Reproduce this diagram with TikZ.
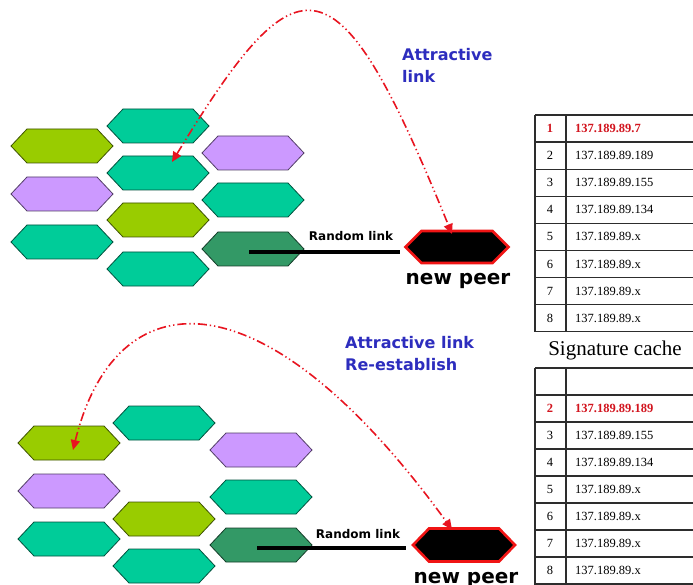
\documentclass[tikz,border=0pt]{standalone}
\usepackage{fontspec}
\setmainfont{Liberation Serif}
\newfontfamily\labelfont{DejaVu Sans}
\usetikzlibrary{arrows.meta,calc}

\definecolor{cellteal}{RGB}{0,204,153}
\definecolor{celllime}{RGB}{153,204,0}
\definecolor{cellviolet}{RGB}{204,153,255}
\definecolor{celldark}{RGB}{51,153,102}
\definecolor{linkred}{RGB}{232,20,32}
\definecolor{peerred}{RGB}{240,20,20}
\definecolor{labelblue}{RGB}{45,45,190}
\definecolor{rowred}{RGB}{210,20,30}
\definecolor{gridgray}{RGB}{45,45,45}

% flat-topped hexagon that fills the node's rectangle
\makeatletter
\newdimen\hexinset \hexinset=16pt
\pgfdeclareshape{hexcell}{
  \inheritsavedanchors[from=rectangle]
  \inheritanchorborder[from=rectangle]
  \inheritanchor[from=rectangle]{center}
  \inheritanchor[from=rectangle]{north}
  \inheritanchor[from=rectangle]{south}
  \inheritanchor[from=rectangle]{west}
  \inheritanchor[from=rectangle]{east}
  \inheritanchor[from=rectangle]{north west}
  \inheritanchor[from=rectangle]{north east}
  \inheritanchor[from=rectangle]{south west}
  \inheritanchor[from=rectangle]{south east}
  \backgroundpath{
    \southwest \pgf@xa=\pgf@x \pgf@ya=\pgf@y
    \northeast \pgf@xb=\pgf@x \pgf@yb=\pgf@y
    \pgf@yc=.5\pgf@ya \advance\pgf@yc by .5\pgf@yb
    \pgf@xc=\pgf@xa \advance\pgf@xc by \hexinset
    \pgfpathmoveto{\pgfqpoint{\pgf@xa}{\pgf@yc}}
    \pgfpathlineto{\pgfqpoint{\pgf@xc}{\pgf@yb}}
    \pgfpathlineto{\pgfqpoint{\dimexpr\pgf@xb-\hexinset\relax}{\pgf@yb}}
    \pgfpathlineto{\pgfqpoint{\pgf@xb}{\pgf@yc}}
    \pgfpathlineto{\pgfqpoint{\dimexpr\pgf@xb-\hexinset\relax}{\pgf@ya}}
    \pgfpathlineto{\pgfqpoint{\pgf@xc}{\pgf@ya}}
    \pgfpathclose
  }
}
\makeatother

\tikzset{
  cell/.style={shape=hexcell, fill=#1, draw=#1!40!black, line width=0.8pt,
    minimum width=102pt, minimum height=34pt, inner sep=0pt, outer sep=0pt},
  peer/.style={shape=hexcell, fill=black, draw=peerred, line width=2.6pt,
    minimum width=103pt, minimum height=32pt, inner sep=0pt, outer sep=0pt},
  attract/.style={draw=linkred, line width=1.6pt,
    dash pattern=on 9pt off 3pt on 1.3pt off 3pt on 1.3pt off 3pt,
    {Triangle[length=10pt,width=9pt,fill=linkred]}-{Triangle[length=10pt,width=9pt,fill=linkred]}},
  randlink/.style={draw=black, line width=4.5pt},
  randlabel/.style={font=\labelfont\bfseries\fontsize{12}{14}\selectfont, anchor=base, inner sep=0pt},
  peerlabel/.style={font=\labelfont\bfseries\fontsize{20}{24}\selectfont, anchor=base, inner sep=0pt},
  linklabel/.style={font=\labelfont\bfseries\fontsize{16}{22}\selectfont, text=labelblue,
    anchor=base west, inner sep=0pt},
  tabline/.style={draw=gridgray, line width=1.3pt},
  tabnum/.style={font=\fontsize{12.5}{14}\selectfont, anchor=base, inner sep=0pt},
  tabaddr/.style={font=\fontsize{12.5}{14}\selectfont, anchor=base west, inner sep=0pt},
  tabhot/.style={text=rowred, font=\bfseries\fontsize{12.5}{14}\selectfont},
}

\begin{document}
\begin{tikzpicture}[x=1pt,y=-1pt]
\useasboundingbox[fill=white] (0,0) rectangle (693,585);

% ---------- upper overlay ----------
\node[cell=celllime]   (ua1) at (62,146) {};
\node[cell=cellviolet] (ua2) at (62,194) {};
\node[cell=cellteal]   (ua3) at (62,242) {};
\node[cell=cellteal]   (ub1) at (158,126) {};
\node[cell=cellteal]   (ub2) at (158,173) {};
\node[cell=celllime]   (ub3) at (158,220) {};
\node[cell=cellteal]   (ub4) at (158,269) {};
\node[cell=cellviolet] (uc1) at (253,153) {};
\node[cell=cellteal]   (uc2) at (253,200) {};
\node[cell=celldark]   (uc3) at (253,249) {};
\node[peer] (np1) at (457,247) {};

\coordinate (ur) at ($(uc3.center -| np1.west)+(-6,3)$);
\draw[randlink] ($(uc3.center)+(-4,3)$) -- (ur);
\node[randlabel] (url) at (351,241) {Random link};
\node[peerlabel] (unp) at (458,284) {new peer};

\draw[attract] ($(ub2.center)+(14,-11)$) .. controls (300,-48) and (337,-48) .. ($(np1.north)+(-5,3)$);
\node[linklabel, align=left] (ull) at (402,83) {Attractive\\link};

% ---------- lower overlay ----------
\node[cell=celllime]   (la1) at (69,443) {};
\node[cell=cellviolet] (la2) at (69,491) {};
\node[cell=cellteal]   (la3) at (69,539) {};
\node[cell=cellteal]   (lb1) at (164,423) {};
\node[cell=celllime]   (lb2) at (164,519) {};
\node[cell=cellteal]   (lb3) at (164,566) {};
\node[cell=cellviolet] (lc1) at (261,450) {};
\node[cell=cellteal]   (lc2) at (261,497) {};
\node[cell=celldark]   (lc3) at (261,545) {};
\node[peer, minimum width=102pt, minimum height=33pt] (np2) at (464,545) {};

\coordinate (lr) at ($(lc3.center -| np2.west)+(-7,3)$);
\draw[randlink] ($(lc3.center)+(-4,3)$) -- (lr);
\node[randlabel] (lrl) at (358,538) {Random link};
\node[peerlabel] (lnp) at (466,583) {new peer};

\draw[attract] ($(la1.center)+(4,7)$) .. controls (115,280) and (260,265) .. ($(np2.north)+(-12,1)$);
\node[linklabel, align=left] (lll) at (345,370) {Attractive link\\Re-establish};

% ---------- upper signature cache ----------
\foreach \r in {0,...,8}
  \draw[tabline] (535,{115+27.1*\r}) -- (700,{115+27.1*\r});
\draw[tabline] (535,115) -- (535,332);
\draw[tabline] (566,115) -- (566,332);
\node[tabnum, tabhot] (un1) at (550,{128.5+4}) {1};
\node[tabaddr, tabhot] (uip1) at (575,{128.5+4}) {137.189.89.7};
\foreach \n/\ip in {2/137.189.89.189, 3/137.189.89.155, 4/137.189.89.134,
                    5/137.189.89.x, 6/137.189.89.x, 7/137.189.89.x, 8/137.189.89.x} {
  \node[tabnum] (un\n) at (550,{115+27.1*(\n-0.5)+4}) {\n};
  \node[tabaddr] (uip\n) at (575,{115+27.1*(\n-0.5)+4}) {\ip};
}
\node[font=\fontsize{21}{24}\selectfont, anchor=base, inner sep=0pt] (sig) at (615,355) {Signature cache};

% ---------- lower signature cache ----------
\foreach \r in {0,...,8}
  \draw[tabline] (535,{368+27*\r}) -- (700,{368+27*\r});
\draw[tabline] (535,368) -- (535,590);
\draw[tabline] (566,368) -- (566,590);
\node[tabnum, tabhot] (ln2) at (550,{368+27*1.5+4}) {2};
\node[tabaddr, tabhot] (lip2) at (575,{368+27*1.5+4}) {137.189.89.189};
\foreach \n/\ip in {3/137.189.89.155, 4/137.189.89.134,
                    5/137.189.89.x, 6/137.189.89.x, 7/137.189.89.x, 8/137.189.89.x} {
  \node[tabnum] (ln\n) at (550,{368+27*(\n-0.5)+4}) {\n};
  \node[tabaddr] (lip\n) at (575,{368+27*(\n-0.5)+4}) {\ip};
}
\end{tikzpicture}
\end{document}
